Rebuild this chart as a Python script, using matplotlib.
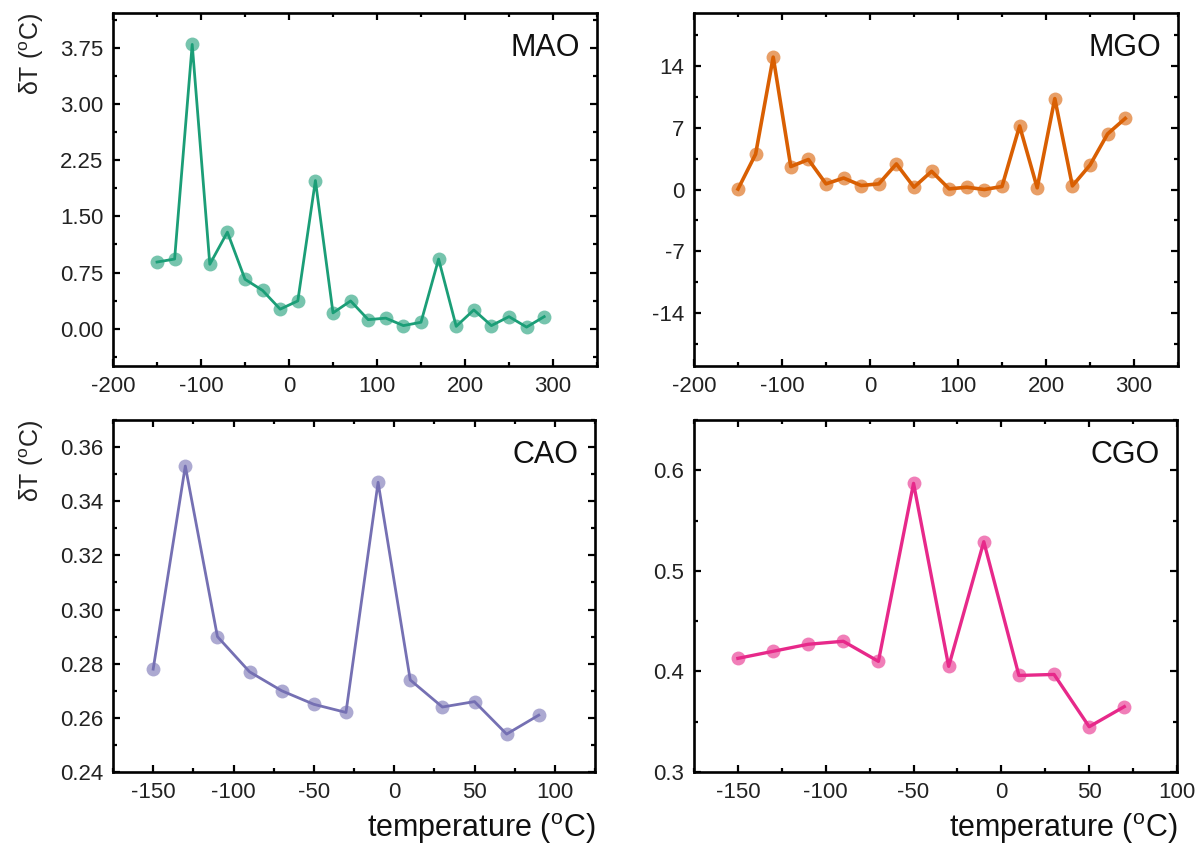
import matplotlib
matplotlib.use("Agg")
import matplotlib.pyplot as plt
from matplotlib.ticker import AutoMinorLocator, FixedLocator, FormatStrFormatter

plt.rcParams['font.family'] = ['Liberation Sans', 'DejaVu Sans']
plt.rcParams['mathtext.fontset'] = 'custom'
plt.rcParams['mathtext.rm'] = 'Liberation Sans'
plt.rcParams['axes.unicode_minus'] = False

# wide-range samples (MAO, MGO)
temp_wide = [-150, -130, -110, -90, -70, -50, -30, -10, 10, 30, 50, 70,
             90, 110, 130, 150, 170, 190, 210, 230, 250, 270, 290]
mao = [0.89, 0.93, 3.80, 0.86, 1.29, 0.66, 0.51, 0.26, 0.37, 1.98, 0.21, 0.37,
       0.12, 0.14, 0.04, 0.085, 0.93, 0.03, 0.25, 0.04, 0.16, 0.02, 0.16]
mgo = [0.05, 4.0, 15.0, 2.6, 3.4, 0.64, 1.3, 0.45, 0.64, 2.9, 0.26, 2.06,
       0.07, 0.26, 0.0, 0.34, 7.2, 0.19, 10.3, 0.41, 2.77, 6.3, 8.05]

# narrow-range samples (CAO, CGO)
temp_cao = [-150, -130, -110, -90, -70, -50, -30, -10, 10, 30, 50, 70, 90]
cao = [0.278, 0.353, 0.290, 0.277, 0.270, 0.265, 0.262, 0.347, 0.274,
       0.264, 0.266, 0.254, 0.261]
temp_cgo = [-150, -130, -110, -90, -70, -50, -30, -10, 10, 30, 50, 70]
cgo = [0.413, 0.420, 0.427, 0.430, 0.410, 0.587, 0.405, 0.529, 0.396,
       0.397, 0.345, 0.365]

names = ['MAO', 'MGO', 'CAO', 'CGO']
colors = ['#1b9e77', '#d95f02', '#7570b3', '#e7298a']
widths = [2.0, 2.6, 2.0, 2.4]

fig = plt.figure(figsize=(12.03, 8.52), dpi=100)
rects = [
    [113 / 1203, 1 - 366 / 852, 484 / 1203, 353 / 852],
    [694 / 1203, 1 - 366 / 852, 484 / 1203, 353 / 852],
    [113 / 1203, 1 - 772 / 852, 482 / 1203, 352 / 852],
    [694 / 1203, 1 - 772 / 852, 483 / 1203, 352 / 852],
]
axes = [fig.add_axes(r) for r in rects]

series = [(temp_wide, mao), (temp_wide, mgo), (temp_cao, cao), (temp_cgo, cgo)]
xlims = [(-200, 350), (-200, 350), (-175, 125), (-175, 100)]
ylims = [(-0.5, 4.22), (-20, 20), (0.24, 0.37), (0.3, 0.65)]
xticks = [[-200, -100, 0, 100, 200, 300], [-200, -100, 0, 100, 200, 300],
          [-150, -100, -50, 0, 50, 100], [-150, -100, -50, 0, 50, 100]]
yticks = [[0, 0.75, 1.5, 2.25, 3.0, 3.75], [-14, -7, 0, 7, 14],
          [0.24, 0.26, 0.28, 0.30, 0.32, 0.34, 0.36], [0.3, 0.4, 0.5, 0.6]]
yfmts = ['%.2f', '%d', '%.2f', '%.1f']

for i, ax in enumerate(axes):
    x, y = series[i]
    c = colors[i]
    ax.plot(x, y, color=c, lw=widths[i], zorder=2)
    ax.plot(x, y, 'o', color=c, ms=10, alpha=0.6, mec='none', zorder=3)
    ax.set_xlim(*xlims[i])
    ax.set_ylim(*ylims[i])
    ax.xaxis.set_major_locator(FixedLocator(xticks[i]))
    ax.yaxis.set_major_locator(FixedLocator(yticks[i]))
    ax.yaxis.set_major_formatter(FormatStrFormatter(yfmts[i]))
    ax.xaxis.set_minor_locator(AutoMinorLocator(2))
    ax.yaxis.set_minor_locator(AutoMinorLocator(2))
    ax.tick_params(which='both', direction='in', top=True, right=True,
                   width=1.6, labelsize=16, colors='black', labelcolor='#222222')
    ax.tick_params(which='major', length=5, pad=7)
    ax.tick_params(which='minor', length=3)
    for sp in ax.spines.values():
        sp.set_linewidth(1.9)
    ax.text(0.965, 0.9, names[i], transform=ax.transAxes, ha='right',
            va='center', fontsize=22, color='#111111')

for ax in (axes[0], axes[2]):
    ax.set_ylabel(r'δT ($^{\rm o}$C)', fontsize=18, loc='top', labelpad=10,
                  color='#222222')
for ax in (axes[2], axes[3]):
    ax.set_xlabel(r'temperature ($^{\rm o}$C)', fontsize=22, loc='right',
                  labelpad=6, color='#111111')

fig.savefig('out.png', dpi=100)
